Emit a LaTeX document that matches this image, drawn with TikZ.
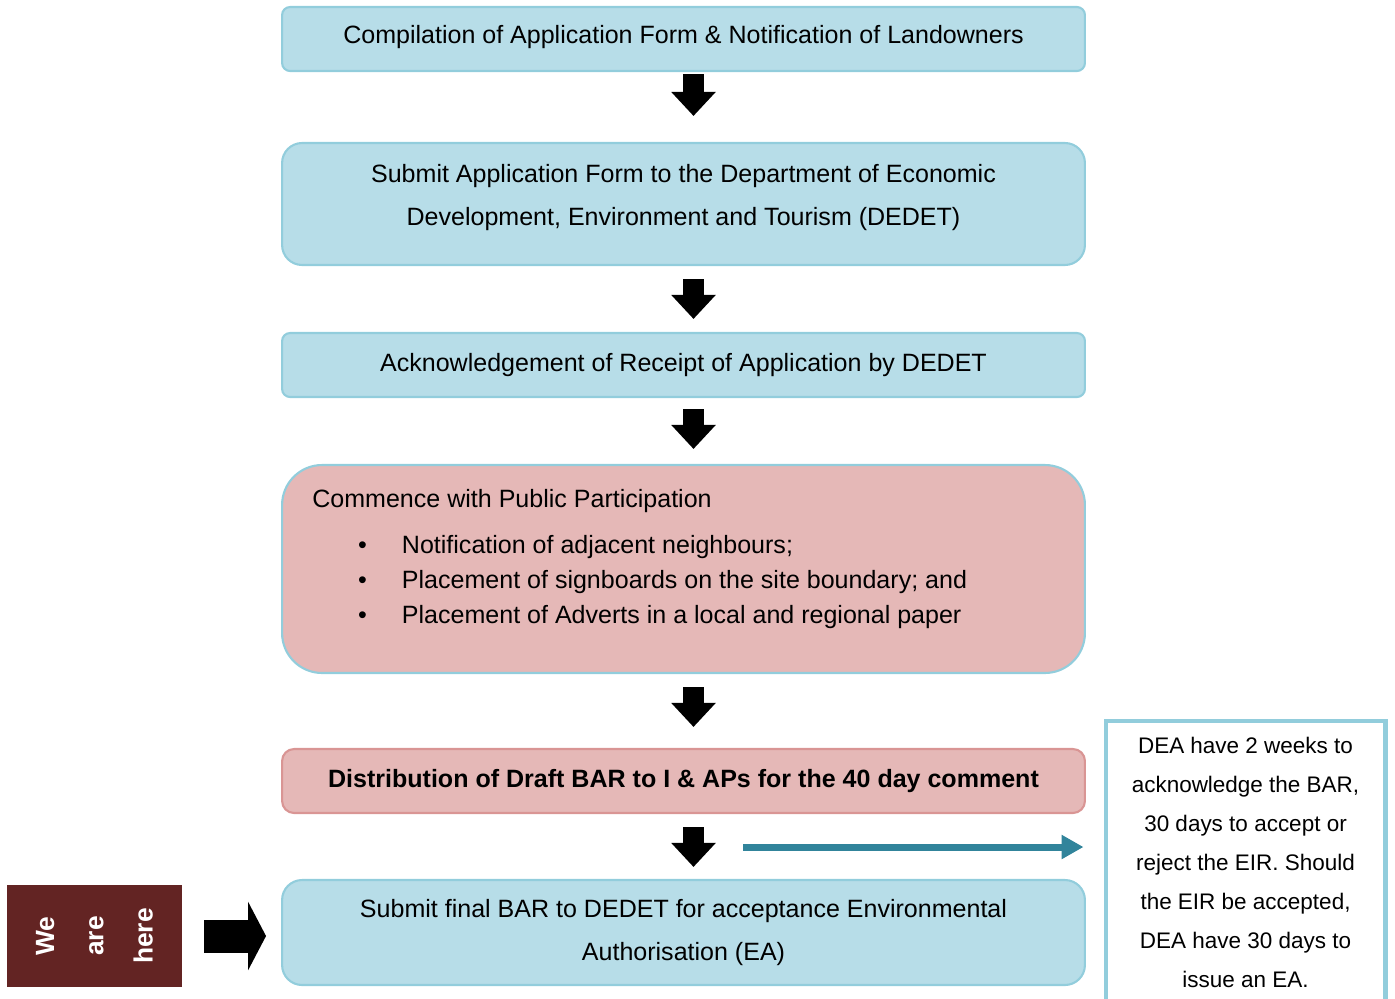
\documentclass[tikz,border=0pt]{standalone}
\usepackage{fontspec}
\setmainfont{Liberation Sans}
\usetikzlibrary{arrows.meta}
\definecolor{boxblue}{HTML}{B7DDE8}
\definecolor{edgeblue}{HTML}{92CDDC}
\definecolor{boxpink}{HTML}{E5B8B7}
\definecolor{edgepink}{HTML}{D99594}
\definecolor{herebrown}{HTML}{632423}
\definecolor{tealarrow}{HTML}{31849B}
\newcommand{\ppitem}{\makebox[51pt][l]{\hspace{26pt}\textbullet}}

\begin{document}
\begin{tikzpicture}[x=0.02cm,y=-0.02cm,
  stage/.style={draw=edgeblue,fill=boxblue,line width=1.2pt,minimum width=16.06cm,align=center,font=\fontsize{14.25}{24.4}\selectfont},
  down/.style={line width=0.42cm,-{Triangle[width=0.86cm,length=0.48cm]}}]
\useasboundingbox (0,0) rectangle (1395,998);
% flow boxes
\node[stage,rounded corners=0.16cm,minimum height=1.28cm,text depth=5pt] (form) at (683.5,39) {Compilation of Application Form \& Notification of Landowners};
\node[stage,rounded corners=0.4cm,minimum height=2.44cm,text depth=10pt] (submit) at (683.5,204) {Submit Application Form to the Department of Economic\\Development, Environment and Tourism (DEDET)};
\node[stage,rounded corners=0.16cm,minimum height=1.28cm] (ack) at (683.5,365) {Acknowledgement of Receipt of Application by DEDET};
\node[stage,fill=boxpink,rounded corners=0.8cm,minimum height=4.16cm] (pp) at (683.5,569) {};
\node[anchor=north west,align=left,inner sep=0pt,font=\fontsize{14.25}{20}\selectfont] (pptext) at (312,489) {Commence with Public Participation\\[6pt]
\ppitem Notification of adjacent neighbours;\\
\ppitem Placement of signboards on the site boundary; and\\
\ppitem Placement of Adverts in a local and regional paper};
\node[stage,fill=boxpink,draw=edgepink,rounded corners=0.24cm,minimum height=1.28cm,font=\bfseries\fontsize{14.25}{17}\selectfont] (draft) at (683.5,781) {Distribution of Draft BAR to I \& APs for the 40 day comment};
\node[stage,rounded corners=0.4cm,minimum height=2.1cm] (final) at (683.5,932.5) {Submit final BAR to DEDET for acceptance Environmental\\Authorisation (EA)};
% side notes
\node[fill=herebrown,text=white,rotate=90,align=center,minimum width=2.04cm,minimum height=3.5cm,font=\bfseries\fontsize{15}{28}\selectfont] (here) at (94.5,936) {We\\are\\here};
\node[draw=edgeblue,line width=2.3pt,minimum width=5.6cm,minimum height=5.64cm,align=center,font=\fontsize{12.8}{22.2}\selectfont] (dea) at (1245.5,862) {DEA have 2 weeks to\\acknowledge the BAR,\\30 days to accept or\\reject the EIR. Should\\the EIR be accepted,\\DEA have 30 days to\\issue an EA.};
% arrows
\draw[down,shorten <=0.04cm,shorten >=0.52cm] ([xshift=0.2cm]form.south) -- ([xshift=0.2cm]submit.north);
\draw[down,shorten <=0.26cm,shorten >=0.26cm] ([xshift=0.2cm]submit.south) -- ([xshift=0.2cm]ack.north);
\draw[down,shorten <=0.22cm,shorten >=0.30cm] ([xshift=0.2cm]ack.south) -- ([xshift=0.2cm]pp.north);
\draw[down,shorten <=0.26cm,shorten >=0.42cm] ([xshift=0.2cm]pp.south) -- ([xshift=0.2cm]draft.north);
\draw[down,shorten <=0.26cm,shorten >=0.24cm] ([xshift=0.2cm]draft.south) -- ([xshift=0.2cm]final.north);
\draw[line width=0.66cm,-{Triangle[width=1.36cm,length=0.36cm]},shorten <=0.44cm,shorten >=0.3cm] (here.south) -- (here.south -| final.west);
\coordinate (tealstart) at (743,847);
\draw[tealarrow,line width=0.14cm,-{Triangle[width=0.46cm,length=0.44cm]},shorten >=0.4cm] (tealstart) -- (tealstart -| dea.west);
\end{tikzpicture}
\end{document}
